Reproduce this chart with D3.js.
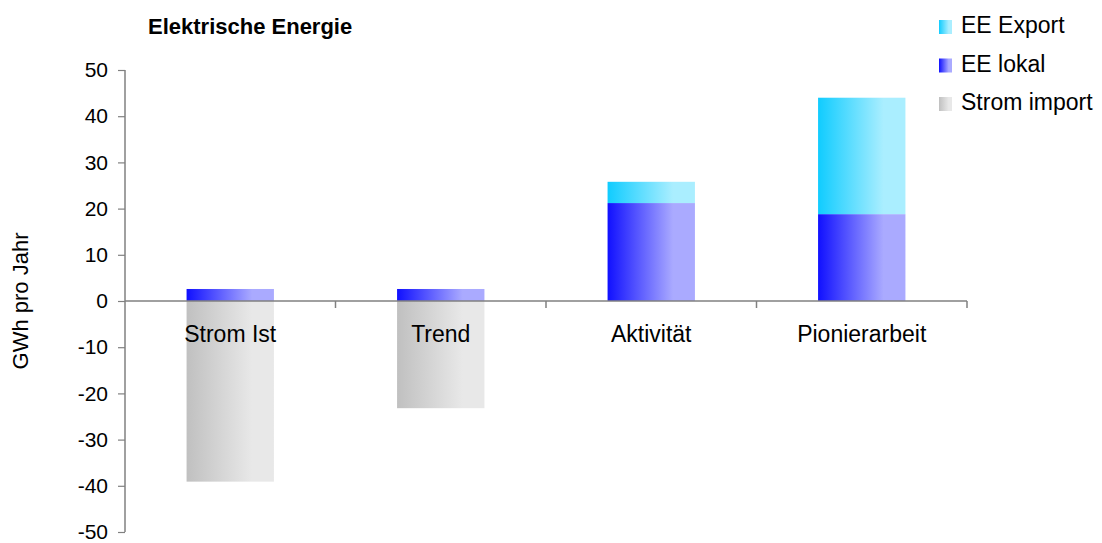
<!DOCTYPE html>
<html>
<head>
<meta charset="utf-8">
<script src="https://cdn.jsdelivr.net/npm/d3@7"></script>
<style>
  body { margin: 0; background: #fff; }
  svg { display: block; font-family: "Liberation Sans", Arial, sans-serif; }
</style>
</head>
<body>
<svg id="chart" width="1102" height="543"></svg>
<script>
// Electric energy balance per scenario (GWh per year)
const categories = ["Strom Ist", "Trend", "Aktivität", "Pionierarbeit"];
const eeLokal   = [2.6, 2.6, 21.2, 18.8];
const eeExport  = [0, 0, 4.6, 25.2];
const stromImport = [-39.1, -23.2, 0, 0];
const yTicks = [50, 40, 30, 20, 10, 0, -10, -20, -30, -40, -50];
const seriesNames = ["EE Export", "EE lokal", "Strom import"];

const svg = d3.select("#chart");
const defs = svg.append("defs");

function gradient(id, c0, c1) {
  const g = defs.append("linearGradient").attr("id", id)
    .attr("x1", "0%").attr("x2", "100%").attr("y1", "0%").attr("y2", "0%");
  g.append("stop").attr("offset", "0%").attr("stop-color", c0);
  g.append("stop").attr("offset", "75%").attr("stop-color", c1);
  g.append("stop").attr("offset", "100%").attr("stop-color", c1);
}
gradient("gExport", "#10ccff", "#aaeeff");
gradient("gLokal", "#1010ff", "#aaaaff");
gradient("gImport", "#c0c0c0", "#e8e8e8");

const plotLeft = 125, plotRight = 967, plotTop = 70, plotBottom = 532;
const x = d3.scaleBand().domain(categories).range([plotLeft, plotRight]).paddingInner(0).paddingOuter(0);
const y = d3.scaleLinear().domain([-50, 50]).range([plotBottom, plotTop]);
const barW = x.bandwidth() * 0.415;

const bars = svg.append("g");
categories.forEach((c, i) => {
  const cx = x(c) + x.bandwidth() / 2 - barW / 2;
  if (stromImport[i] < 0) {
    bars.append("rect").attr("x", cx).attr("width", barW)
      .attr("y", y(0)).attr("height", y(stromImport[i]) - y(0))
      .attr("fill", "url(#gImport)");
  }
  if (eeLokal[i] > 0) {
    bars.append("rect").attr("x", cx).attr("width", barW)
      .attr("y", y(eeLokal[i])).attr("height", y(0) - y(eeLokal[i]))
      .attr("fill", "url(#gLokal)");
  }
  if (eeExport[i] > 0) {
    const base = eeLokal[i];
    bars.append("rect").attr("x", cx).attr("width", barW)
      .attr("y", y(base + eeExport[i])).attr("height", y(base) - y(base + eeExport[i]))
      .attr("fill", "url(#gExport)");
  }
});

// Y axis
const yAxis = svg.append("g").attr("transform", `translate(${plotLeft},0)`)
  .call(d3.axisLeft(y).tickValues(yTicks).tickSize(7).tickPadding(10).tickFormat(d => String(d)));
yAxis.select(".domain").attr("stroke", "#808080").attr("stroke-width", 1.5).attr("d", `M0,${plotTop}V${plotBottom}`);
yAxis.selectAll(".tick line").attr("stroke", "#808080").attr("stroke-width", 1.2);
yAxis.selectAll(".tick text").attr("font-size", 21).attr("fill", "#000")
  .attr("font-family", "Liberation Sans, Arial, sans-serif");

// X axis along the zero line
const xAxis = svg.append("g").attr("transform", `translate(0,${y(0)})`);
xAxis.append("line").attr("x1", plotLeft).attr("x2", plotRight).attr("y1", 0).attr("y2", 0)
  .attr("stroke", "#808080").attr("stroke-width", 1.5);
categories.forEach(c => {
  const b = x(c) + x.bandwidth();
  xAxis.append("line").attr("x1", b).attr("x2", b).attr("y1", 0).attr("y2", 7)
    .attr("stroke", "#808080").attr("stroke-width", 1.5);
});
xAxis.selectAll("text.cat").data(categories).join("text").attr("class", "cat")
  .attr("x", d => x(d) + x.bandwidth() / 2).attr("y", 41)
  .attr("text-anchor", "middle").attr("font-size", 23).text(d => d);

// Title
svg.append("text").attr("x", 148).attr("y", 34).attr("font-size", 22)
  .attr("font-weight", "bold").text("Elektrische Energie");

// Y axis title
svg.append("text").attr("transform", `translate(28,${y(0)}) rotate(-90)`)
  .attr("text-anchor", "middle").attr("font-size", 22).text("GWh pro Jahr");

// Legend
const legendFills = ["url(#gExport)", "url(#gLokal)", "url(#gImport)"];
const legend = svg.append("g");
seriesNames.forEach((n, i) => {
  const cy = 27 + i * 38.5;
  legend.append("rect").attr("x", 939).attr("y", cy - 7).attr("width", 13).attr("height", 14)
    .attr("fill", legendFills[i]);
  legend.append("text").attr("x", 961).attr("y", cy + 6).attr("font-size", 23).text(n);
});
</script>
</body>
</html>
